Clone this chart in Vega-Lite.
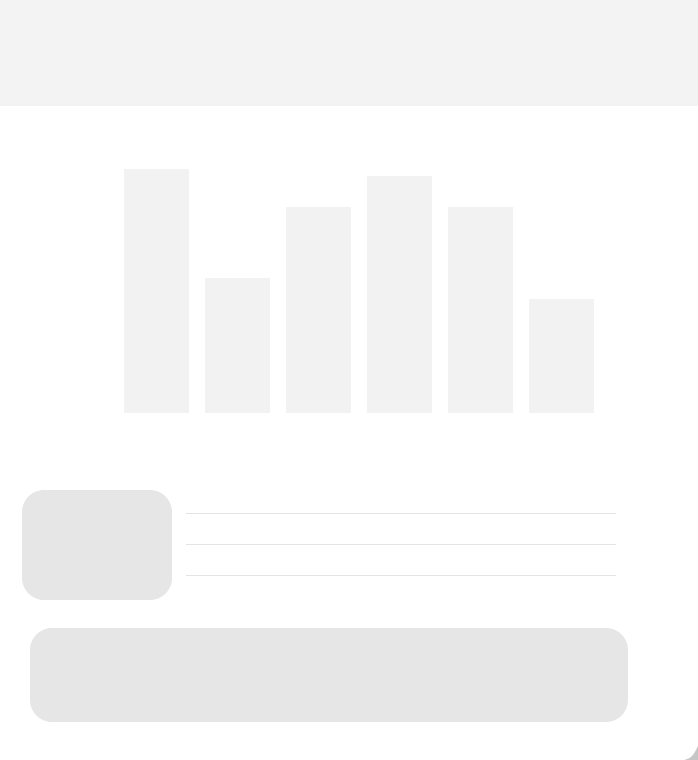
{
  "$schema": "https://vega.github.io/schema/vega-lite/v6.json",
  "width": 698,
  "height": 760,
  "autosize": {"type": "fit", "contains": "padding"},
  "padding": 0,
  "background": "#ffffff",
  "config": {"view": {"stroke": null}},
  "datasets": {
    "blocks": [
      {"block": "header", "left": 0, "right": 698, "top": 0, "bottom": 106}
    ],
    "cards": [
      {"block": "thumb", "left": 22, "right": 172, "top": 490, "bottom": 600},
      {"block": "footer", "left": 30, "right": 628, "top": 628, "bottom": 722}
    ],
    "lines": [
      {"line": 1, "left": 186, "right": 616, "pos": 513.5},
      {"line": 2, "left": 186, "right": 616, "pos": 544.5},
      {"line": 3, "left": 186, "right": 616, "pos": 575.5}
    ],
    "curl": [
      {"px": 684, "py": 760},
      {"px": 692, "py": 756},
      {"px": 698, "py": 746}
    ],
    "bars": [
      {"cat": "A", "value": 244},
      {"cat": "B", "value": 135},
      {"cat": "C", "value": 206},
      {"cat": "D", "value": 237},
      {"cat": "E", "value": 206},
      {"cat": "F", "value": 114}
    ]
  },
  "layer": [
    {
      "data": {"name": "blocks"},
      "mark": {"type": "rect", "fill": "#f3f3f3"},
      "encoding": {
        "x": {"field": "left", "type": "quantitative", "scale": {"domain": [0, 698], "nice": false, "zero": false}, "axis": null},
        "x2": {"field": "right"},
        "y": {"field": "top", "type": "quantitative", "scale": {"domain": [0, 760], "nice": false, "zero": false, "reverse": true}, "axis": null},
        "y2": {"field": "bottom"}
      }
    },
    {
      "data": {"name": "cards"},
      "mark": {"type": "rect", "fill": "#e6e6e6", "cornerRadius": 22},
      "encoding": {
        "x": {"field": "left", "type": "quantitative", "scale": {"domain": [0, 698], "nice": false, "zero": false}, "axis": null},
        "x2": {"field": "right"},
        "y": {"field": "top", "type": "quantitative", "scale": {"domain": [0, 760], "nice": false, "zero": false, "reverse": true}, "axis": null},
        "y2": {"field": "bottom"}
      }
    },
    {
      "data": {"name": "lines"},
      "mark": {"type": "rule", "stroke": "#e4e4e4", "strokeWidth": 1},
      "encoding": {
        "x": {"field": "left", "type": "quantitative", "scale": {"domain": [0, 698], "nice": false, "zero": false}, "axis": null},
        "x2": {"field": "right"},
        "y": {"field": "pos", "type": "quantitative", "scale": {"domain": [0, 760], "nice": false, "zero": false, "reverse": true}, "axis": null}
      }
    },
    {
      "data": {"name": "curl"},
      "mark": {"type": "area", "fill": "#c6c6c6", "interpolate": "monotone"},
      "encoding": {
        "x": {"field": "px", "type": "quantitative", "scale": {"domain": [0, 698], "nice": false, "zero": false}, "axis": null},
        "y": {"field": "py", "type": "quantitative", "scale": {"domain": [0, 760], "nice": false, "zero": false, "reverse": true}, "axis": null},
        "y2": {"datum": 760}
      }
    },
    {
      "data": {"name": "bars"},
      "mark": {"type": "bar", "fill": "#f2f2f2"},
      "encoding": {
        "x": {"field": "cat", "type": "nominal", "scale": {"range": [124, 594], "paddingInner": 0.1975, "paddingOuter": 0}, "axis": null},
        "y": {"field": "value", "type": "quantitative", "scale": {"domain": [0, 413], "range": [413, 0], "nice": false}, "axis": null}
      }
    }
  ],
  "resolve": {"scale": {"x": "independent", "y": "independent"}}
}
